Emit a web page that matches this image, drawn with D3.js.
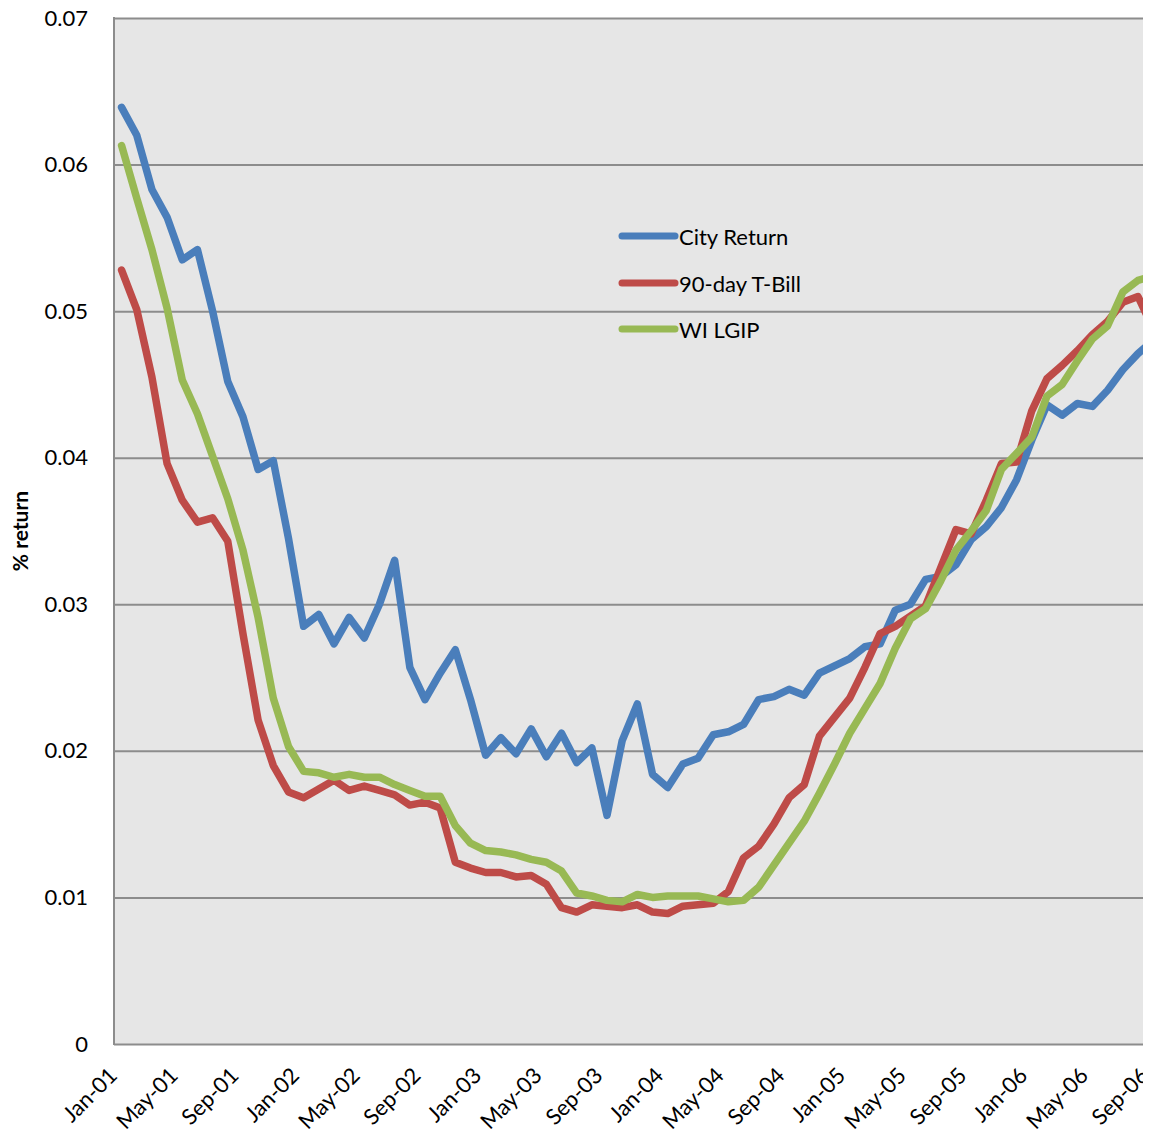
<!DOCTYPE html>
<html>
<head>
<meta charset="utf-8">
<script src="https://cdn.jsdelivr.net/npm/d3@7"></script>
<style>
  html, body { margin: 0; padding: 0; background: #ffffff; }
  svg { display: block; }
  text { font-family: Lato, "Open Sans", "Liberation Sans", sans-serif; fill: #000; }
</style>
</head>
<body>
<div id="chart"></div>
<script>
const months = [
  "Jan-01","Feb-01","Mar-01","Apr-01","May-01","Jun-01","Jul-01","Aug-01","Sep-01","Oct-01","Nov-01","Dec-01",
  "Jan-02","Feb-02","Mar-02","Apr-02","May-02","Jun-02","Jul-02","Aug-02","Sep-02","Oct-02","Nov-02","Dec-02",
  "Jan-03","Feb-03","Mar-03","Apr-03","May-03","Jun-03","Jul-03","Aug-03","Sep-03","Oct-03","Nov-03","Dec-03",
  "Jan-04","Feb-04","Mar-04","Apr-04","May-04","Jun-04","Jul-04","Aug-04","Sep-04","Oct-04","Nov-04","Dec-04",
  "Jan-05","Feb-05","Mar-05","Apr-05","May-05","Jun-05","Jul-05","Aug-05","Sep-05","Oct-05","Nov-05","Dec-05",
  "Jan-06","Feb-06","Mar-06","Apr-06","May-06","Jun-06","Jul-06","Aug-06","Sep-06"
];
const tickLabels = ["Jan-01","May-01","Sep-01","Jan-02","May-02","Sep-02","Jan-03","May-03","Sep-03",
  "Jan-04","May-04","Sep-04","Jan-05","May-05","Sep-05","Jan-06","May-06","Sep-06"];
const yTicks = [0, 0.01, 0.02, 0.03, 0.04, 0.05, 0.06, 0.07];

const cityReturn = [
  0.0639,0.0620,0.0583,0.0564,0.0535,0.0542,0.0500,0.0452,0.0428,0.0392,0.0398,0.0345,
  0.0285,0.0293,0.0273,0.0291,0.0277,0.0300,0.0330,0.0257,0.0235,0.0253,0.0269,0.0235,
  0.0197,0.0209,0.0198,0.0215,0.0196,0.0212,0.0192,0.0202,0.0156,0.0207,0.0232,0.0184,
  0.0175,0.0191,0.0195,0.0211,0.0213,0.0218,0.0235,0.0237,0.0242,0.0238,0.0253,0.0258,
  0.0263,0.0271,0.0273,0.0296,0.0300,0.0317,0.0319,0.0327,0.0344,0.0353,0.0366,0.0385,
  0.0412,0.0436,0.0429,0.0437,0.0435,0.0446,0.0460,0.0471,0.0480
];
const tBill90 = [
  0.0528,0.0501,0.0455,0.0396,0.0371,0.0356,0.0359,0.0343,0.0280,0.0221,0.0190,0.0172,
  0.0168,0.0174,0.0180,0.0173,0.0176,0.0173,0.0170,0.0163,0.0165,0.0161,0.0124,0.0120,
  0.0117,0.0117,0.0114,0.0115,0.0109,0.0093,0.0090,0.0095,0.0094,0.0093,0.0095,0.0090,
  0.0089,0.0094,0.0095,0.0096,0.0104,0.0127,0.0135,0.0150,0.0168,0.0177,0.0210,0.0223,
  0.0236,0.0257,0.0280,0.0285,0.0292,0.0299,0.0325,0.0351,0.0348,0.0371,0.0396,0.0397,
  0.0432,0.0454,0.0463,0.0473,0.0484,0.0493,0.0506,0.0510,0.0488
];
const wiLgip = [
  0.0613,0.0577,0.0542,0.0502,0.0453,0.0430,0.0401,0.0372,0.0337,0.0291,0.0236,0.0203,
  0.0186,0.0185,0.0182,0.0184,0.0182,0.0182,0.0177,0.0173,0.0169,0.0169,0.0149,0.0137,
  0.0132,0.0131,0.0129,0.0126,0.0124,0.0118,0.0103,0.0101,0.0098,0.0097,0.0102,0.0100,
  0.0101,0.0101,0.0101,0.0099,0.0097,0.0098,0.0107,0.0122,0.0137,0.0152,0.0171,0.0191,
  0.0212,0.0229,0.0246,0.0270,0.0290,0.0297,0.0316,0.0337,0.0350,0.0364,0.0392,0.0403,
  0.0414,0.0442,0.0450,0.0466,0.0481,0.0490,0.0513,0.0521,0.0524
];
const seriesNames = ["City Return", "90-day T-Bill", "WI LGIP"];
const seriesColors = ["#4a7ebb", "#be4b48", "#98b954"];
const seriesValues = [cityReturn, tBill90, wiLgip];

const W = 1143, H = 1141;
const plotLeft = 114, plotTop = 18, plotBottom = 1044, bandW = 15.17;

const svg = d3.select("#chart").append("svg").attr("width", W).attr("height", H);

const x = d3.scaleBand().domain(months)
  .range([plotLeft, plotLeft + months.length * bandW]).paddingInner(0).paddingOuter(0);
const y = d3.scaleLinear().domain([0, 0.07]).range([plotBottom, plotTop]);
const cx = m => x(m) + x.bandwidth() / 2;

// plot background
svg.append("rect").attr("x", plotLeft).attr("y", plotTop)
  .attr("width", W - plotLeft + 10).attr("height", plotBottom - plotTop)
  .attr("fill", "#e6e6e6");

// gridlines via axis
const yAxis = d3.axisLeft(y).tickValues(yTicks)
  .tickSize(-(W - plotLeft + 10)).tickPadding(26)
  .tickFormat(d => d === 0 ? "0" : d.toFixed(2));
const gy = svg.append("g").attr("transform", `translate(${plotLeft},0)`).call(yAxis);
gy.select(".domain").remove();
gy.selectAll(".tick line").attr("stroke", "#8c8c8c").attr("stroke-width", 2);
gy.selectAll(".tick text").attr("font-size", 22).attr("fill", "#000");

// left border
svg.append("line").attr("x1", plotLeft).attr("x2", plotLeft)
  .attr("y1", plotTop - 1).attr("y2", plotBottom + 1)
  .attr("stroke", "#8c8c8c").attr("stroke-width", 2);

// x axis labels
const xAxis = d3.axisBottom(x).tickValues(tickLabels).tickSize(0).tickPadding(0);
const gx = svg.append("g").attr("transform", `translate(0,${plotBottom})`).call(xAxis);
gx.select(".domain").remove();
gx.selectAll(".tick text")
  .attr("font-size", 22).attr("fill", "#000")
  .attr("text-anchor", "end")
  .attr("dominant-baseline", "central")
  .attr("y", 0).attr("dy", null)
  .attr("transform", "translate(-9,27) rotate(-45)");

// clip for lines
svg.append("clipPath").attr("id", "plotclip").append("rect")
  .attr("x", plotLeft).attr("y", 0).attr("width", W - plotLeft).attr("height", H);

const line = d3.line().x((d, i) => cx(months[i])).y(d => y(d));
const lines = svg.append("g").attr("clip-path", "url(#plotclip)");
seriesValues.forEach((vals, k) => {
  lines.append("path").datum(vals)
    .attr("d", line)
    .attr("fill", "none")
    .attr("stroke", seriesColors[k])
    .attr("stroke-width", 7.5)
    .attr("stroke-linejoin", "round")
    .attr("stroke-linecap", "round");
});

// legend
const legendY = [236, 283, 329];
const lg = svg.append("g");
seriesNames.forEach((name, k) => {
  lg.append("line").attr("x1", 622).attr("x2", 675)
    .attr("y1", legendY[k]).attr("y2", legendY[k])
    .attr("stroke", seriesColors[k]).attr("stroke-width", 7).attr("stroke-linecap", "round");
  lg.append("text").attr("x", 679).attr("y", legendY[k])
    .attr("dominant-baseline", "central").attr("font-size", 22).text(name);
});

// y-axis title
svg.append("text")
  .attr("transform", "translate(19,531) rotate(-90)")
  .attr("text-anchor", "middle").attr("dominant-baseline", "central")
  .attr("font-size", 21).attr("font-weight", "bold")
  .text("% return");
</script>
</body>
</html>
